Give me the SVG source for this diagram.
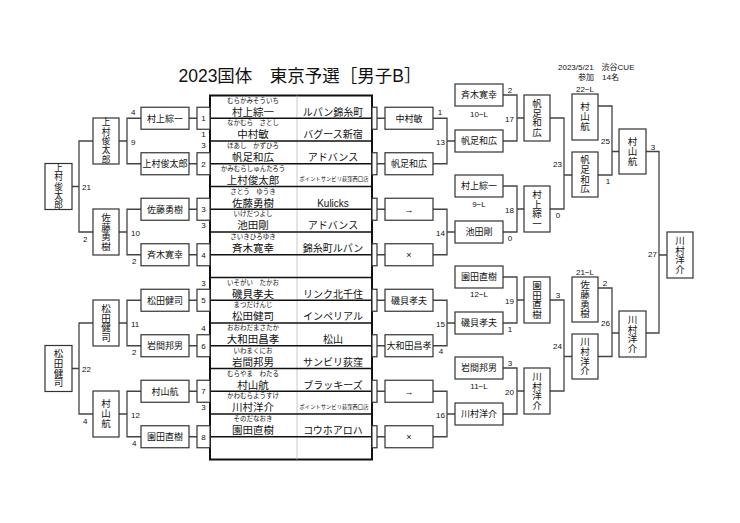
<svg xmlns="http://www.w3.org/2000/svg" width="740" height="523" viewBox="0 0 740 523">
<style>
.t{font-family:"Liberation Sans","Noto Sans CJK JP",sans-serif;fill:#111}
.b{fill:#fff;stroke:#333;stroke-width:1.2}
.c{fill:none;stroke:#444;stroke-width:1.3}
.n{font-size:9px;text-anchor:middle}
.v{font-size:9.5px;text-anchor:middle}
.v5{font-size:8.6px;text-anchor:middle}
.s{font-size:8px}
.m{text-anchor:middle}
.e{text-anchor:end}
.f{font-size:6.5px;text-anchor:middle}
.nm{font-size:10.5px;text-anchor:middle}
.cl{font-size:10px;text-anchor:middle}
.cs{font-size:5.3px;text-anchor:middle}
.rl{stroke:#111;stroke-width:1.5}
</style>
<rect width="740" height="523" fill="#fff"/>
<text class="t" x="300" y="82" font-size="17.5" text-anchor="middle">2023国体　東京予選［男子B］</text>
<text class="t" x="558" y="70" font-size="8">2023/5/21　渋谷CUE</text>
<text class="t" x="578" y="80" font-size="8">参加　14名</text>

<g id="connectors" class="c">
<path d="M189,118.25H197M189,163.75H197M189,209.25H197M189,254.75H197M189,300.25H197M189,345.75H197M189,391.25H197M189,436.75H197"/>
<path d="M141,118.25H127V163.75H141M127,141H119"/>
<path d="M141,209.25H127V254.75H141M127,232H119"/>
<path d="M141,300.25H127V345.75H141M127,323H119"/>
<path d="M141,391.25H127V436.75H141M127,414H119"/>
<path d="M93,141H79V232H93M79,186.5H72"/>
<path d="M93,323H79V414H93M79,368.5H72"/>
<path d="M377,118.25H385M377,163.75H385M377,209.25H385M377,254.75H385M377,300.25H385M377,345.75H385M377,391.25H385M377,436.75H385"/>
<path d="M433,118.25H447V163.75H433M447,141H455"/>
<path d="M433,209.25H447V254.75H433M447,232H455"/>
<path d="M433,300.25H447V345.75H433M447,323H455"/>
<path d="M433,391.25H447V436.75H433M447,414H455"/>
<path d="M503,95H517V141H503M517,118H524"/>
<path d="M503,186H517V232H503M517,209H524"/>
<path d="M503,277H517V323H503M517,300H524"/>
<path d="M503,368H517V414H503M517,391H524"/>
<path d="M550,118H564V209H550M564,175H572"/>
<path d="M550,300H564V391H550M564,356.5H572"/>
<path d="M598,106H612V175H598M612,151.5H619"/>
<path d="M598,288H612V356.5H598M612,333H619"/>
<path d="M646,151.5H659V333H646M659,255H667"/>
</g>

<g id="table">
<rect x="210" y="95.5" width="162" height="364" fill="#fff" stroke="#111" stroke-width="2"/>
<line x1="297" y1="95.5" x2="297" y2="459.5" stroke="#bbb" stroke-width="0.8"/>
<path class="rl" d="M210,118.25H372M210,141H372M210,163.75H372M210,186.5H372M210,209.25H372M210,232H372M210,254.75H372M210,277.5H372M210,300.25H372M210,323H372M210,345.75H372M210,368.5H372M210,391.25H372M210,414H372M210,436.75H372"/>
<g class="t">
<text class="f" x="253" y="102.7">むらかみそういち</text><text class="nm" x="253" y="115.5">村上綜一</text><text class="cl" x="333" y="115.5">ルパン錦糸町</text>
<text class="f" x="253" y="125.45">なかむら　さとし</text><text class="nm" x="253" y="138.25">中村敏</text><text class="cl" x="333" y="138.25">バグース新宿</text>
<text class="f" x="253" y="148.2">ほあし　かずひろ</text><text class="nm" x="253" y="161">帆足和広</text><text class="cl" x="333" y="161">アドバンス</text>
<text class="f" x="253" y="170.95">かみむらしゅんたろう</text><text class="nm" x="253" y="183.75">上村俊太郎</text><text class="cs" x="334" y="181.25">ポイントサンビリ荻窪西口店</text>
<text class="f" x="253" y="193.7">さとう　ゆうき</text><text class="nm" x="253" y="206.5">佐藤勇樹</text><text class="cl" x="333" y="206.5">Kulicks</text>
<text class="f" x="253" y="216.45">いけだつよし</text><text class="nm" x="253" y="229.25">池田剛</text><text class="cl" x="333" y="229.25">アドバンス</text>
<text class="f" x="253" y="239.2">さいきひろゆき</text><text class="nm" x="253" y="252">斉木寛幸</text><text class="cl" x="333" y="252">錦糸町ルパン</text>
<text class="f" x="253" y="284.7">いそがい　たかお</text><text class="nm" x="253" y="297.5">磯貝孝夫</text><text class="cl" x="333" y="297.5">リンク北千住</text>
<text class="f" x="253" y="307.45">まつだけんじ</text><text class="nm" x="253" y="320.25">松田健司</text><text class="cl" x="333" y="320.25">インペリアル</text>
<text class="f" x="253" y="330.2">おおわだまさたか</text><text class="nm" x="253" y="343">大和田昌孝</text><text class="cl" x="333" y="343">松山</text>
<text class="f" x="253" y="352.95">いわまくにお</text><text class="nm" x="253" y="365.75">岩間邦男</text><text class="cl" x="333" y="365.75">サンビリ荻窪</text>
<text class="f" x="253" y="375.7">むらやま　わたる</text><text class="nm" x="253" y="388.5">村山航</text><text class="cl" x="333" y="388.5">ブラッキーズ</text>
<text class="f" x="253" y="398.45">かわむらようすけ</text><text class="nm" x="253" y="411.25">川村洋介</text><text class="cs" x="334" y="408.75">ポイントサンビリ荻窪西口店</text>
<text class="f" x="253" y="421.2">そのだなおき</text><text class="nm" x="253" y="434">園田直樹</text><text class="cl" x="333" y="434">コウホアロハ</text>
</g>
</g>

<g id="left-r1" class="t">
<g id="L1"><rect class="b" x="141" y="107.25" width="48" height="22"/><text class="n" x="165" y="121.5">村上綜一</text></g>
<g id="L2"><rect class="b" x="141" y="152.75" width="48" height="22"/><text class="n" x="165" y="167">上村俊太郎</text></g>
<g id="L3"><rect class="b" x="141" y="198.25" width="48" height="22"/><text class="n" x="165" y="212.5">佐藤勇樹</text></g>
<g id="L4"><rect class="b" x="141" y="243.75" width="48" height="22"/><text class="n" x="165" y="258">斉木寛幸</text></g>
<g id="L5"><rect class="b" x="141" y="289.25" width="48" height="22"/><text class="n" x="165" y="303.5">松田健司</text></g>
<g id="L6"><rect class="b" x="141" y="334.75" width="48" height="22"/><text class="n" x="165" y="349">岩間邦男</text></g>
<g id="L7"><rect class="b" x="141" y="380.25" width="48" height="22"/><text class="n" x="165" y="394.5">村山航</text></g>
<g id="L8"><rect class="b" x="141" y="425.75" width="48" height="22"/><text class="n" x="165" y="440">園田直樹</text></g>
</g>
<g id="left-slots" class="t s">
<g id="S1"><rect class="b" x="197" y="107.25" width="13" height="22"/><text class="m" x="203.5" y="121">1</text></g>
<g id="S2"><rect class="b" x="197" y="152.75" width="13" height="22"/><text class="m" x="203.5" y="166.5">2</text></g>
<g id="S3"><rect class="b" x="197" y="198.25" width="13" height="22"/><text class="m" x="203.5" y="212">3</text></g>
<g id="S4"><rect class="b" x="197" y="243.75" width="13" height="22"/><text class="m" x="203.5" y="257.5">4</text></g>
<g id="S5"><rect class="b" x="197" y="289.25" width="13" height="22"/><text class="m" x="203.5" y="303">5</text></g>
<g id="S6"><rect class="b" x="197" y="334.75" width="13" height="22"/><text class="m" x="203.5" y="348.5">6</text></g>
<g id="S7"><rect class="b" x="197" y="380.25" width="13" height="22"/><text class="m" x="203.5" y="394">7</text></g>
<g id="S8"><rect class="b" x="197" y="425.75" width="13" height="22"/><text class="m" x="203.5" y="439.5">8</text></g>
<text class="m" x="203.5" y="137">1</text>
<text class="m" x="203.5" y="147.5">3</text>
<text class="m" x="203.5" y="228">3</text>
<text class="m" x="203.5" y="285.5">3</text>
<text class="m" x="203.5" y="331">4</text>
<text class="m" x="203.5" y="410">3</text>
</g>

<g id="left-r2" class="t">
<g id="LQ1"><rect class="b" x="93" y="118" width="26" height="46"/><text class="v5"><tspan x="106" y="125.4">上</tspan><tspan x="106" y="134.7">村</tspan><tspan x="106" y="144">俊</tspan><tspan x="106" y="153.3">太</tspan><tspan x="106" y="162.6">郎</tspan></text></g>
<g id="LQ2"><rect class="b" x="93" y="209" width="26" height="46"/><text class="v"><tspan x="106" y="220.9">佐</tspan><tspan x="106" y="230.5">藤</tspan><tspan x="106" y="240.1">勇</tspan><tspan x="106" y="249.7">樹</tspan></text></g>
<g id="LQ3"><rect class="b" x="93" y="300" width="26" height="46"/><text class="v"><tspan x="106" y="311.9">松</tspan><tspan x="106" y="321.5">田</tspan><tspan x="106" y="331.1">健</tspan><tspan x="106" y="340.7">司</tspan></text></g>
<g id="LQ4"><rect class="b" x="93" y="391" width="26" height="46"/><text class="v"><tspan x="106" y="407.3">村</tspan><tspan x="106" y="417.3">山</tspan><tspan x="106" y="427.3">航</tspan></text></g>
<g id="LS1"><rect class="b" x="45" y="163.5" width="27" height="46"/><text class="v5"><tspan x="58.5" y="170.9">上</tspan><tspan x="58.5" y="180.2">村</tspan><tspan x="58.5" y="189.5">俊</tspan><tspan x="58.5" y="198.8">太</tspan><tspan x="58.5" y="208.1">郎</tspan></text></g>
<g id="LS2"><rect class="b" x="45" y="345.5" width="27" height="46"/><text class="v"><tspan x="58.5" y="357.4">松</tspan><tspan x="58.5" y="367">田</tspan><tspan x="58.5" y="376.6">健</tspan><tspan x="58.5" y="386.2">司</tspan></text></g>
</g>
<g id="left-scores" class="t s">
<text x="131" y="115">4</text>
<text x="131" y="144.5">9</text>
<text x="131" y="235.5">10</text>
<text x="132" y="264">2</text>
<text x="131" y="326.5">11</text>
<text x="132" y="355">2</text>
<text x="131" y="417.5">12</text>
<text x="132" y="446">4</text>
<text x="82" y="190">21</text>
<text x="83" y="241.5">2</text>
<text x="82" y="372">22</text>
<text x="83" y="424">4</text>
</g>

<g id="right-slots">
<rect class="b" x="372" y="107.25" width="5" height="22"/>
<rect class="b" x="372" y="152.75" width="5" height="22"/>
<rect class="b" x="372" y="198.25" width="5" height="22"/>
<rect class="b" x="372" y="243.75" width="5" height="22"/>
<rect class="b" x="372" y="289.25" width="5" height="22"/>
<rect class="b" x="372" y="334.75" width="5" height="22"/>
<rect class="b" x="372" y="380.25" width="5" height="22"/>
<rect class="b" x="372" y="425.75" width="5" height="22"/>
</g>
<g id="right-r1" class="t">
<g id="R1"><rect class="b" x="385" y="107.25" width="48" height="22"/><text class="n" x="409" y="121.5">中村敏</text></g>
<g id="R2"><rect class="b" x="385" y="152.75" width="48" height="22"/><text class="n" x="409" y="167">帆足和広</text></g>
<g id="R3"><rect class="b" x="385" y="198.25" width="48" height="22"/><text class="n" x="409" y="212.5">→</text></g>
<g id="R4"><rect class="b" x="385" y="243.75" width="48" height="22"/><text class="n" x="409" y="258">×</text></g>
<g id="R5"><rect class="b" x="385" y="289.25" width="48" height="22"/><text class="n" x="409" y="303.5">磯貝孝夫</text></g>
<g id="R6"><rect class="b" x="385" y="334.75" width="48" height="22"/><text class="n" x="409" y="349">大和田昌孝</text></g>
<g id="R7"><rect class="b" x="385" y="380.25" width="48" height="22"/><text class="n" x="409" y="394.5">→</text></g>
<g id="R8"><rect class="b" x="385" y="425.75" width="48" height="22"/><text class="n" x="409" y="440">×</text></g>
</g>
<g id="right-r2" class="t">
<g id="RA1"><rect class="b" x="455" y="84" width="48" height="22"/><text class="n" x="479" y="98.2">斉木寛幸</text></g>
<g id="RA2"><rect class="b" x="455" y="130" width="48" height="22"/><text class="n" x="479" y="144.2">帆足和広</text></g>
<g id="RA3"><rect class="b" x="455" y="175" width="48" height="22"/><text class="n" x="479" y="189.2">村上綜一</text></g>
<g id="RA4"><rect class="b" x="455" y="221" width="48" height="22"/><text class="n" x="479" y="235.2">池田剛</text></g>
<g id="RA5"><rect class="b" x="455" y="266" width="48" height="22"/><text class="n" x="479" y="280.2">園田直樹</text></g>
<g id="RA6"><rect class="b" x="455" y="312" width="48" height="22"/><text class="n" x="479" y="326.2">磯貝孝夫</text></g>
<g id="RA7"><rect class="b" x="455" y="357" width="48" height="22"/><text class="n" x="479" y="371.2">岩間邦男</text></g>
<g id="RA8"><rect class="b" x="455" y="403" width="48" height="22"/><text class="n" x="479" y="417.2">川村洋介</text></g>
<g class="s m"><text x="479" y="116.5">10−L</text><text x="479" y="207">9−L</text><text x="479" y="297">12−L</text><text x="479" y="389">11−L</text></g>
</g>
<g id="right-r3" class="t">
<g id="RB1"><rect class="b" x="524" y="95" width="26" height="46"/><text class="v"><tspan x="537" y="106.9">帆</tspan><tspan x="537" y="116.5">足</tspan><tspan x="537" y="126.1">和</tspan><tspan x="537" y="135.7">広</tspan></text></g>
<g id="RB2"><rect class="b" x="524" y="186" width="26" height="46"/><text class="v"><tspan x="537" y="197.9">村</tspan><tspan x="537" y="207.5">上</tspan><tspan x="537" y="217.1">綜</tspan><tspan x="537" y="226.7">一</tspan></text></g>
<g id="RB3"><rect class="b" x="524" y="277" width="26" height="46"/><text class="v"><tspan x="537" y="288.9">園</tspan><tspan x="537" y="298.5">田</tspan><tspan x="537" y="308.1">直</tspan><tspan x="537" y="317.7">樹</tspan></text></g>
<g id="RB4"><rect class="b" x="524" y="368" width="26" height="46"/><text class="v"><tspan x="537" y="379.9">川</tspan><tspan x="537" y="389.5">村</tspan><tspan x="537" y="399.1">洋</tspan><tspan x="537" y="408.7">介</tspan></text></g>
</g>
<g id="right-semi" class="t">
<g id="RC1"><rect class="b" x="572" y="94" width="26" height="46"/><text class="v"><tspan x="585" y="110.3">村</tspan><tspan x="585" y="120.3">山</tspan><tspan x="585" y="130.3">航</tspan></text></g>
<g id="RC2"><rect class="b" x="572" y="152" width="26" height="45"/><text class="v"><tspan x="585" y="163.4">帆</tspan><tspan x="585" y="173">足</tspan><tspan x="585" y="182.6">和</tspan><tspan x="585" y="192.2">広</tspan></text></g>
<g id="RC3"><rect class="b" x="572" y="277" width="26" height="45"/><text class="v"><tspan x="585" y="288.4">佐</tspan><tspan x="585" y="298">藤</tspan><tspan x="585" y="307.6">勇</tspan><tspan x="585" y="317.2">樹</tspan></text></g>
<g id="RC4"><rect class="b" x="572" y="334" width="26" height="45"/><text class="v"><tspan x="585" y="345.4">川</tspan><tspan x="585" y="355">村</tspan><tspan x="585" y="364.6">洋</tspan><tspan x="585" y="374.2">介</tspan></text></g>
<g class="s m"><text x="585" y="92">22−L</text><text x="585" y="274.5">21−L</text></g>
</g>
<g id="right-final" class="t">
<g id="RD1"><rect class="b" x="619" y="129" width="27" height="45"/><text class="v"><tspan x="632.5" y="144.8">村</tspan><tspan x="632.5" y="154.8">山</tspan><tspan x="632.5" y="164.8">航</tspan></text></g>
<g id="RD2"><rect class="b" x="619" y="311" width="27" height="46"/><text class="v"><tspan x="632.5" y="322.9">川</tspan><tspan x="632.5" y="332.5">村</tspan><tspan x="632.5" y="342.1">洋</tspan><tspan x="632.5" y="351.7">介</tspan></text></g>
<g id="champion"><rect class="b" x="667" y="232" width="26" height="46"/><text class="v"><tspan x="680" y="243.9">川</tspan><tspan x="680" y="253.5">村</tspan><tspan x="680" y="263.1">洋</tspan><tspan x="680" y="272.7">介</tspan></text></g>
</g>
<g id="right-scores" class="t s">
<text class="m" x="440" y="115">1</text>
<text class="e" x="445" y="144.5">13</text>
<text class="e" x="445" y="235.5">14</text>
<text class="e" x="445" y="326.5">15</text>
<text class="m" x="441" y="354">4</text>
<text class="e" x="445" y="417.5">16</text>
<text class="m" x="510" y="93">2</text>
<text class="e" x="514" y="121.5">17</text>
<text class="e" x="514" y="212.5">18</text>
<text class="m" x="510" y="240.5">0</text>
<text class="e" x="514" y="303.5">19</text>
<text class="m" x="510" y="331.5">1</text>
<text class="m" x="510" y="366">3</text>
<text class="e" x="514" y="394.5">20</text>
<text class="e" x="562" y="166.5">23</text>
<text class="m" x="558" y="217.5">0</text>
<text class="m" x="558" y="297.5">3</text>
<text class="e" x="562" y="348.5">24</text>
<text class="e" x="610" y="143.5">25</text>
<text class="m" x="608" y="183.5">1</text>
<text class="m" x="605" y="286">2</text>
<text class="e" x="610" y="325.5">26</text>
<text class="m" x="653" y="150">3</text>
<text class="e" x="657" y="256.5">27</text>
</g>
</svg>
